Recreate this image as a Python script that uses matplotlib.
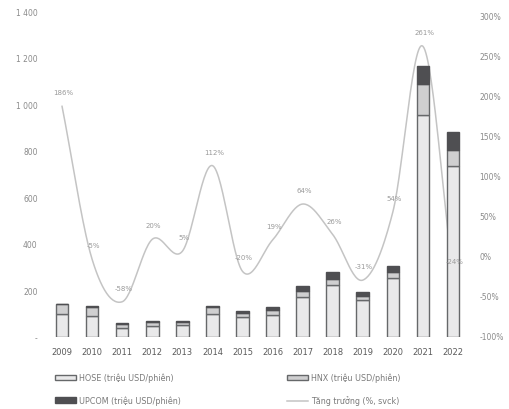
import numpy as np
import matplotlib
matplotlib.use("Agg")
import matplotlib.pyplot as plt
from matplotlib.patches import Patch
from matplotlib.lines import Line2D

years = ["2009", "2010", "2011", "2012", "2013", "2014", "2015", "2016",
         "2017", "2018", "2019", "2020", "2021", "2022"]
hose = [100, 90, 40, 48, 50, 100, 85, 95, 170, 225, 160, 255, 955, 735]
hnx = [40, 38, 17, 16, 14, 28, 20, 20, 29, 26, 18, 25, 130, 70]
upcom = [2, 5, 3, 4, 4, 5, 7, 14, 20, 28, 15, 25, 80, 75]
growth = [186, -5, -58, 20, 5, 112, -20, 19, 64, 26, -31, 54, 261, -24]

left_ticks = [0, 200, 400, 600, 800, 1000, 1200, 1400]
left_labels = ["-", "200", "400", "600", "800", "1 000", "1 200", "1 400"]
right_ticks = [-100, -50, 0, 50, 100, 150, 200, 250, 300]
right_labels = ["-100%", "-50%", "0%", "50%", "100%", "150%", "200%", "250%", "300%"]

legend_labels = ["HOSE (triệu USD/phiên)", "UPCOM (triệu USD/phiên)",
                 "HNX (triệu USD/phiên)", "Tăng trưởng (%, svck)"]

c_hose = "#e9e9ea"
c_hnx = "#cfcfd0"
c_upcom = "#4f4f52"
c_edge = "#66686a"
c_line = "#c4c4c4"
c_text = "#8a8a8a"

plt.rcParams['font.family'] = ['DejaVu Sans']

fig = plt.figure(figsize=(5.1, 4.1), dpi=100)
ax = fig.add_axes([44 / 510, 72 / 410, 427 / 510, 326 / 410])
ax2 = ax.twinx()

x = np.arange(len(years))
w = 0.42
h = np.array(hose)
n = np.array(hnx)
u = np.array(upcom)
ax.bar(x, h, w, color=c_hose, edgecolor=c_edge, linewidth=1.0, zorder=2)
ax.bar(x, n, w, bottom=h, color=c_hnx, edgecolor=c_edge, linewidth=1.0, zorder=2)
ax.bar(x, u, w, bottom=h + n, color=c_upcom, edgecolor=c_upcom, linewidth=1.0, zorder=2)

ax.set_xlim(-0.6, len(years) - 0.4)
ax.set_ylim(0, 1400)
ax.set_yticks(left_ticks)
ax.set_yticklabels(left_labels)
ax.set_xticks(x)
ax.set_xticklabels(years)
ax.tick_params(axis='y', length=0, labelsize=5.5, labelcolor=c_text, pad=4.5)
ax.tick_params(axis='x', length=0, labelsize=6, labelcolor="#5a5a5a", pad=7)

# smooth line (Catmull-Rom through the data points)
g = np.array(growth, dtype=float)
px = np.concatenate([[x[0] - (x[1] - x[0])], x, [x[-1] + (x[-1] - x[-2])]]).astype(float)
py = np.concatenate([[g[0] - (g[1] - g[0])], g, [g[-1] + (g[-1] - g[-2])]])
sx, sy = [], []
t = np.linspace(0, 1, 30)
for i in range(1, len(px) - 2):
    p0, p1, p2, p3 = (np.array([px[j], py[j]]) for j in (i - 1, i, i + 1, i + 2))
    seg = 0.5 * ((2 * p1)[:, None] + (-p0 + p2)[:, None] * t
                 + (2 * p0 - 5 * p1 + 4 * p2 - p3)[:, None] * t ** 2
                 + (-p0 + 3 * p1 - 3 * p2 + p3)[:, None] * t ** 3)
    sx.extend(seg[0])
    sy.extend(seg[1])
ax2.plot(sx, sy, color=c_line, lw=1.1, zorder=3)

ax2.set_ylim(-102, 305)
ax2.set_yticks(right_ticks)
ax2.set_yticklabels(right_labels)
ax2.tick_params(axis='y', length=0, labelsize=5.5, labelcolor=c_text, pad=6)

# line behind the bars, labels on top
ax2.set_zorder(1)
ax.set_zorder(2)
ax.patch.set_visible(False)
ax2.patch.set_visible(False)

for xi, gi in zip(x, growth):
    ax.annotate(f"{gi}%", (xi, gi), xycoords=ax2.transData, xytext=(1, 10),
                textcoords='offset points', ha='center', va='center',
                fontsize=5, color="#9a9a9a", zorder=5)

for a in (ax, ax2):
    for s in a.spines.values():
        s.set_visible(False)

h1 = [Patch(facecolor=c_hose, edgecolor=c_edge, linewidth=1.0),
      Patch(facecolor=c_upcom, edgecolor=c_upcom, linewidth=1.0)]
h2 = [Patch(facecolor=c_hnx, edgecolor=c_edge, linewidth=1.0),
      Line2D([0], [0], color=c_line, lw=1.1)]
common = dict(loc='upper left', frameon=False, fontsize=5.8, labelcolor="#7a7a7a",
              handlelength=2.6, handleheight=0.6, handletextpad=0.4,
              labelspacing=1.6, borderpad=0, borderaxespad=0)
leg1 = fig.legend(h1, legend_labels[:2], bbox_to_anchor=(55 / 510, 1 - 374 / 410), **common)
leg2 = fig.legend(h2, legend_labels[2:], bbox_to_anchor=(287 / 510, 1 - 374 / 410), **common)

fig.savefig("out.png", dpi=100)
